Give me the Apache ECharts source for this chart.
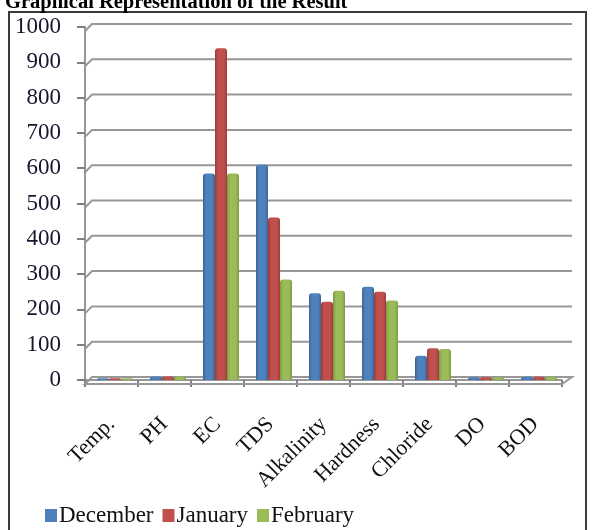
<!DOCTYPE html>
<html>
<head>
<meta charset="utf-8">
<title>Graphical Representation of the Result</title>
<script src="https://cdn.jsdelivr.net/npm/echarts@6/dist/echarts.min.js"></script>
<style>
  html, body { margin: 0; padding: 0; background: #ffffff; }
  #chart { width: 596px; height: 530px; }
</style>
</head>
<body>
<div id="chart"></div>
<script>
// Water quality parameters measured over three months
var categories = ['Temp.', 'PH', 'EC', 'TDS', 'Alkalinity', 'Hardness', 'Chloride', 'DO', 'BOD'];
var december = [5, 10, 585, 610, 246, 264, 69, 8, 9];
var january  = [5, 10, 940, 460, 222, 250, 90, 8, 9];
var february = [5, 10, 585, 285, 253, 225, 88, 8, 9];
var seriesNames = ['December', 'January', 'February'];
var yTicks = [0, 100, 200, 300, 400, 500, 600, 700, 800, 900, 1000];

var SERIF = '"Liberation Serif", "Times New Roman", serif';
var palette = ['#4F81BD', '#C0504D', '#9BBB59'];
var edge = ['#3A6496', '#9A3B38', '#7A9A42'];

function barFill(i) {
  return new echarts.graphic.LinearGradient(0, 0, 1, 0, [
    { offset: 0, color: edge[i] },
    { offset: 0.25, color: palette[i] },
    { offset: 0.75, color: palette[i] },
    { offset: 1, color: edge[i] }
  ]);
}

// Back wall gridlines with a short diagonal returning to the front axis
function renderWall(params, api) {
  var cs = params.coordSys;
  var v = api.value(0);
  var y = api.coord([0, v])[1];
  var left = cs.x, right = cs.x + cs.width;
  var lineStyle = { stroke: '#979797', lineWidth: 2, fill: null };
  if (v === 0) {
    return {
      type: 'polygon',
      shape: { points: [[left, y + 4], [left + 7, y - 3], [right + 10, y - 3], [right, y + 4]] },
      style: lineStyle
    };
  }
  return {
    type: 'polyline',
    shape: { points: [[left, y + 4], [left + 7, y - 3], [right + 10, y - 3]] },
    style: lineStyle
  };
}

var chart = echarts.init(document.getElementById('chart'), null, { renderer: 'canvas' });

var barSeries = [december, january, february].map(function (vals, i) {
  return {
    name: seriesNames[i],
    type: 'bar',
    xAxisIndex: 1,
    yAxisIndex: 1,
    data: vals,
    barWidth: 12,
    barGap: '0%',
    z: 3,
    itemStyle: { color: barFill(i), borderRadius: [3, 3, 0, 0] }
  };
});

chart.setOption({
  animation: false,
  backgroundColor: '#ffffff',
  color: palette,
  graphic: [
    {
      type: 'rect',
      shape: { x: 9, y: 12, width: 577, height: 540 },
      style: { fill: null, stroke: '#3a3a3a', lineWidth: 2 },
      z: 0
    },
    {
      type: 'text',
      style: {
        x: 5, y: 13,
        text: 'Graphical Representation of the Result',
        font: 'bold 20.5px ' + SERIF,
        fill: '#000000',
        verticalAlign: 'bottom'
      },
      z: 5
    }
  ],
  legend: {
    left: 40,
    top: 499,
    itemWidth: 12,
    itemHeight: 13,
    itemGap: 9,
    icon: 'rect',
    data: seriesNames.map(function (n, i) {
      return { name: n, itemStyle: { color: palette[i] } };
    }),
    textStyle: { fontFamily: SERIF, fontSize: 23, color: '#111111', padding: [0, 0, 0, -3] }
  },
  grid: [
    { left: 85, right: 34, top: 27, bottom: 150 },
    { left: 88.5, right: 30.5, top: 27, bottom: 150 }
  ],
  xAxis: [
    {
      type: 'category',
      gridIndex: 0,
      data: categories,
      offset: 4,
      axisLine: { show: true, lineStyle: { color: '#979797', width: 2 } },
      axisTick: { show: true, alignWithLabel: false, length: 7, lineStyle: { color: '#7f7f7f', width: 2 } },
      axisLabel: {
        rotate: 45,
        margin: 37,
        interval: 0,
        fontFamily: SERIF,
        fontSize: 22,
        color: '#111111'
      }
    },
    {
      type: 'category',
      gridIndex: 1,
      data: categories,
      show: false
    }
  ],
  yAxis: [
    {
      type: 'value',
      gridIndex: 0,
      min: 0,
      max: 1000,
      interval: 100,
      axisLine: { show: true, lineStyle: { color: '#979797', width: 2 } },
      axisTick: { show: true, inside: false, length: 8, lineStyle: { color: '#7f7f7f', width: 2 } },
      splitLine: { show: false },
      axisLabel: {
        margin: 24,
        fontFamily: SERIF,
        fontSize: 23,
        color: '#151530',
        padding: [8, 0, 0, 0],
        formatter: function (v) { return String(v); }
      }
    },
    {
      type: 'value',
      gridIndex: 1,
      min: 0,
      max: 1000,
      interval: 100,
      show: false
    }
  ],
  series: [
    {
      type: 'custom',
      name: 'wall',
      xAxisIndex: 0,
      yAxisIndex: 0,
      data: yTicks,
      renderItem: renderWall,
      silent: true,
      z: 1,
      encode: { y: 0 }
    }
  ].concat(barSeries)
});
</script>
</body>
</html>
